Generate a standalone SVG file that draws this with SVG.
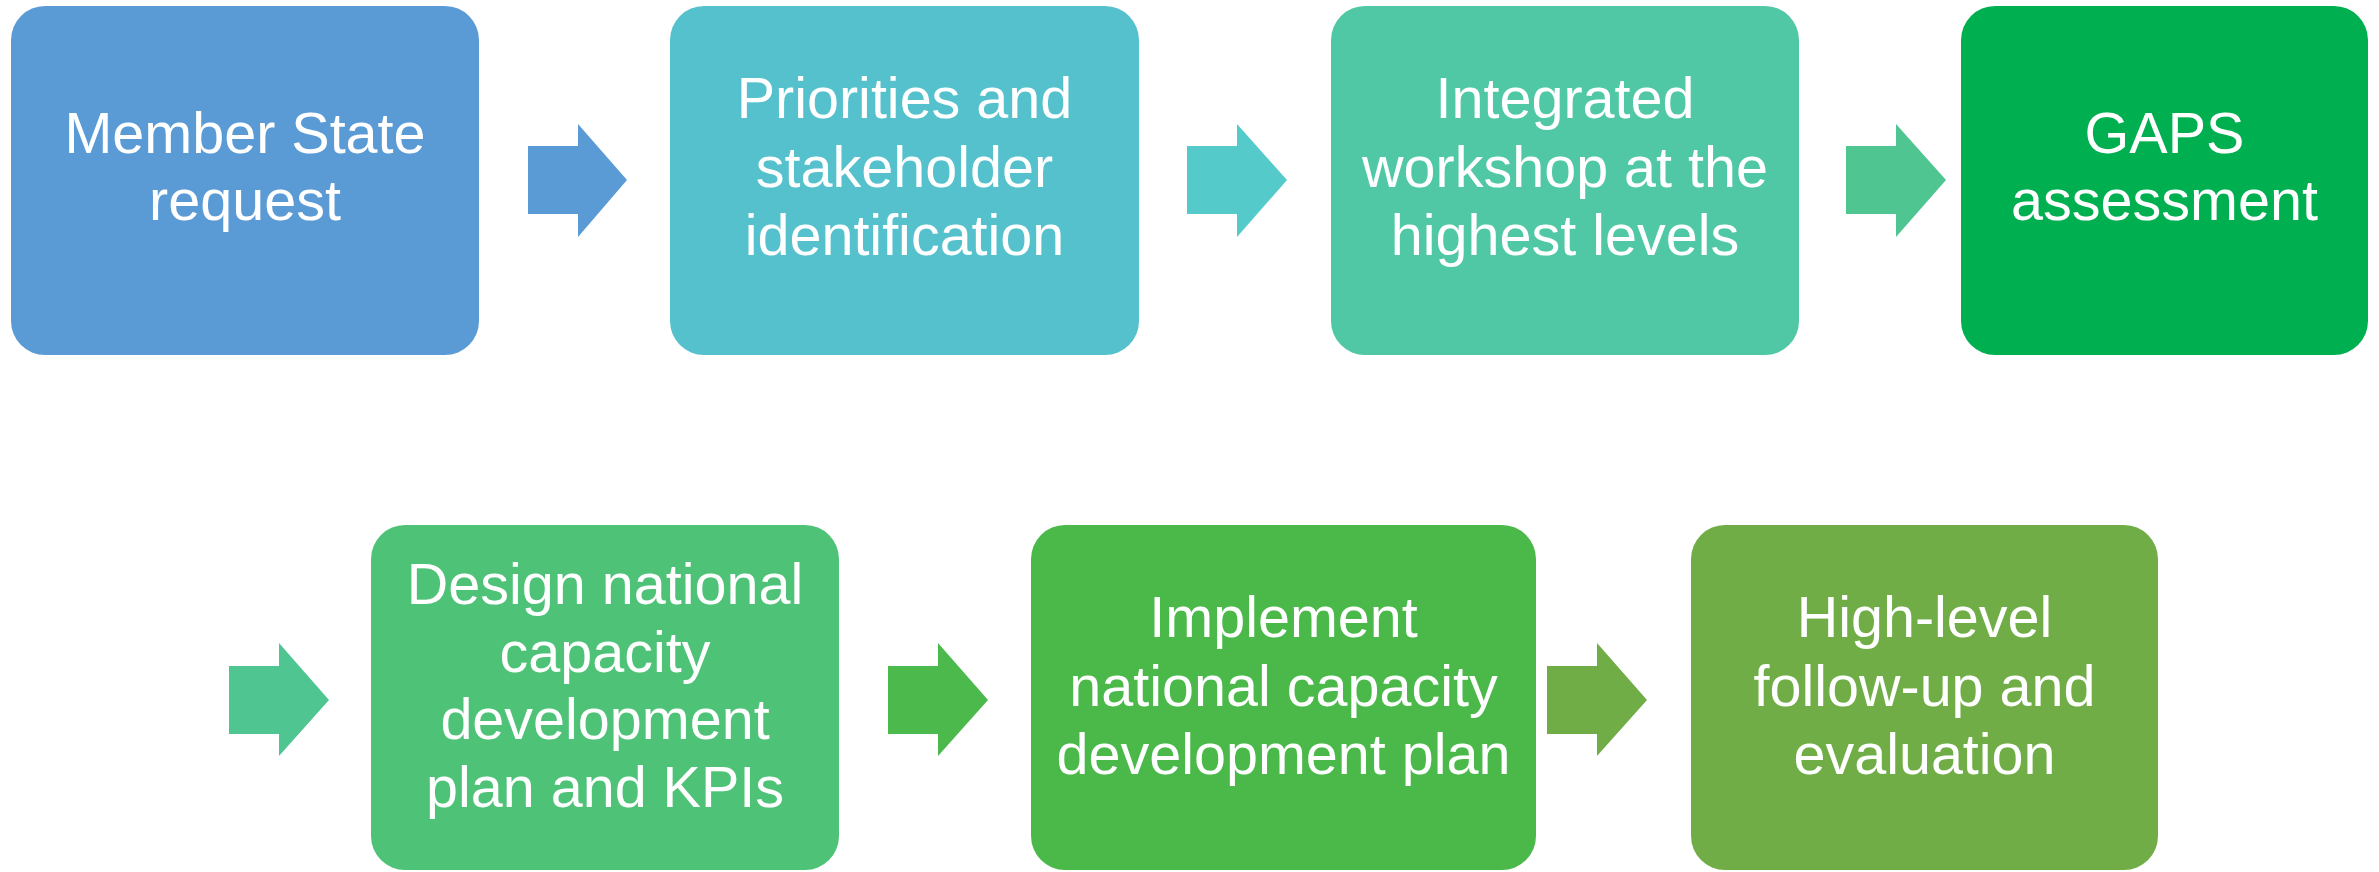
<svg xmlns="http://www.w3.org/2000/svg" width="2379" height="872" viewBox="0 0 2379 872">
<style>
  .box { stroke: none; }
  .lbl { font-family: "Liberation Sans", Arial, sans-serif; font-size: 57.5px; fill: #ffffff; text-anchor: middle; }
</style>
<rect width="2379" height="872" fill="#ffffff"/>
<g id="connectors">
  <path id="a1" d="M528,146 H578 V124 L627,180 L578,237 V214 H528 Z" fill="#5B9BD5"/>
  <path id="a2" d="M1187,146 H1237 V124 L1287,180 L1237,237 V214 H1187 Z" fill="#55CACB"/>
  <path id="a3" d="M1846,146 H1896 V124 L1946,180 L1896,237 V214 H1846 Z" fill="#4FC591"/>
  <path id="a4" d="M229,666 H279 V643 L329,700 L279,756 V734 H229 Z" fill="#4FC591"/>
  <path id="a5" d="M888,666 H938 V643 L988,700 L938,756 V734 H888 Z" fill="#4BB94B"/>
  <path id="a6" d="M1547,666 H1597 V643 L1647,700 L1597,756 V734 H1547 Z" fill="#70AD47"/>
</g>
<g id="n1">
  <rect class="box" x="11" y="6" width="468" height="349" rx="34" fill="#5B9BD5"/>
  <text class="lbl" x="245" y="153">Member State</text>
  <text class="lbl" x="245" y="220">request</text>
</g>
<g id="n2">
  <rect class="box" x="670" y="6" width="469" height="349" rx="34" fill="#55C1CD"/>
  <text class="lbl" x="904.5" y="118">Priorities and</text>
  <text class="lbl" x="904.5" y="187">stakeholder</text>
  <text class="lbl" x="904.5" y="255">identification</text>
</g>
<g id="n3">
  <rect class="box" x="1331" y="6" width="468" height="349" rx="34" fill="#50C8A5"/>
  <text class="lbl" x="1565" y="118">Integrated</text>
  <text class="lbl" x="1565" y="187">workshop at the</text>
  <text class="lbl" x="1565" y="255">highest levels</text>
</g>
<g id="n4">
  <rect class="box" x="1961" y="6" width="407" height="349" rx="34" fill="#00B050"/>
  <text class="lbl" x="2164.5" y="153">GAPS</text>
  <text class="lbl" x="2164.5" y="220">assessment</text>
</g>
<g id="n5">
  <rect class="box" x="371" y="525" width="468" height="345" rx="34" fill="#4EC277"/>
  <text class="lbl" x="605" y="604">Design national</text>
  <text class="lbl" x="605" y="672">capacity</text>
  <text class="lbl" x="605" y="739">development</text>
  <text class="lbl" x="605" y="807">plan and KPIs</text>
</g>
<g id="n6">
  <rect class="box" x="1031" y="525" width="505" height="345" rx="34" fill="#4BB94A"/>
  <text class="lbl" x="1283.5" y="637">Implement</text>
  <text class="lbl" x="1283.5" y="706">national capacity</text>
  <text class="lbl" x="1283.5" y="774">development plan</text>
</g>
<g id="n7">
  <rect class="box" x="1691" y="525" width="467" height="345" rx="34" fill="#70AD47"/>
  <text class="lbl" x="1924.5" y="637">High-level</text>
  <text class="lbl" x="1924.5" y="706">follow-up and</text>
  <text class="lbl" x="1924.5" y="774">evaluation</text>
</g>
</svg>
